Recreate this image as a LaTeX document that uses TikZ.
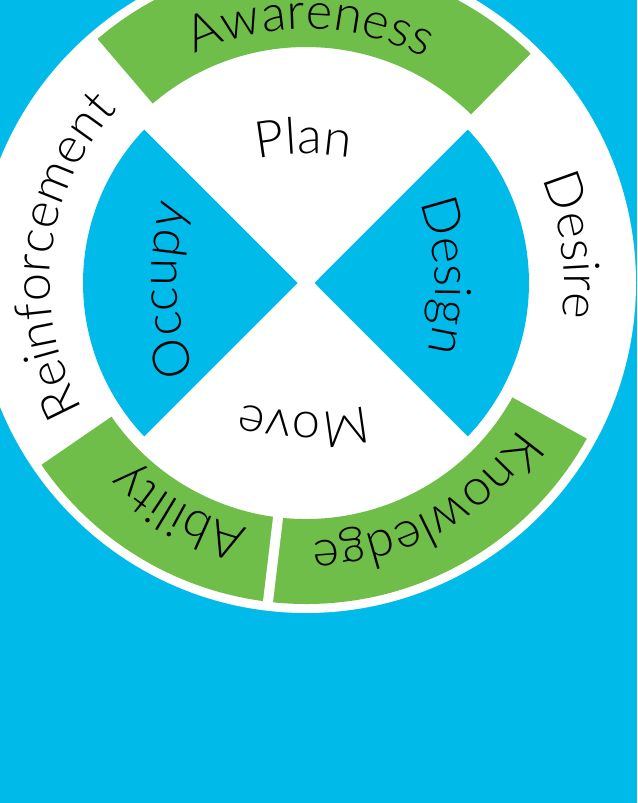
\documentclass[tikz,border=0pt]{standalone}
\usepackage{fontspec}
\setmainfont{Lato Light}
\usetikzlibrary{decorations.text}

\definecolor{skyblue}{RGB}{0,187,234}
\definecolor{leafgreen}{RGB}{112,190,74}

\newcommand\lblfont{\fontsize{38}{40}\selectfont}

% text set clockwise along a circle round the hub centre
\newcommand\ringlabel[3]{%
  \path[decorate,decoration={text along path,text align=center,
      text={|\lblfont|#3}}]
    (#1+70:#2) arc[start angle=#1+70,end angle=#1-70,radius=#2];}

% text set clockwise along a flatter arc, baseline 129 from the hub centre
\newcommand\hublabel[2]{%
  \begin{scope}[shift={(#1:-121)}]
    \path[decorate,decoration={text along path,text align=center,
        text={|\lblfont|#2}}]
      (#1+40:250) arc[start angle=#1+40,end angle=#1-40,radius=250];
  \end{scope}}

\begin{document}
\begin{tikzpicture}[x=0.75pt,y=0.75pt]
  \useasboundingbox (-306,-520) rectangle (331,283);
  \fill[skyblue] (-306,-520) rectangle (331,283);

  % white disc
  \fill[white] (0,0) circle[radius=330];

  % green ring segments
  \fill[leafgreen] (45.6:236) arc[start angle=45.6,end angle=130.5,radius=236]
    -- (130.5:321) arc[start angle=130.5,end angle=45.6,radius=321] -- cycle;
  \fill[leafgreen] (-29:236) arc[start angle=-29,end angle=-145.5,radius=236]
    -- (-145.5:321) arc[start angle=-145.5,end angle=-29,radius=321] -- cycle;
  \draw[white,line width=7.5pt] (-96.8:228) -- (-96.8:328);

  % blue wedges
  \fill[skyblue] (8.5,0) -- (43.46:223)
    arc[start angle=43.46,end angle=-43.46,radius=223] -- cycle;
  \fill[skyblue] (-8.5,0) -- (136.54:223)
    arc[start angle=136.54,end angle=223.46,radius=223] -- cycle;

  % ring labels
  \ringlabel{89}{254}{Awareness}
  \ringlabel{8}{258}{Desire}
  \ringlabel{-61.5}{258}{Knowledge}
  \ringlabel{-119}{252}{Ability}
  \ringlabel{173.5}{256}{Reinforcement}

  % hub labels
  \hublabel{91}{Plan}
  \hublabel{3}{Design}
  \hublabel{-91}{Move}
  \hublabel{183}{Occupy}
\end{tikzpicture}
\end{document}
